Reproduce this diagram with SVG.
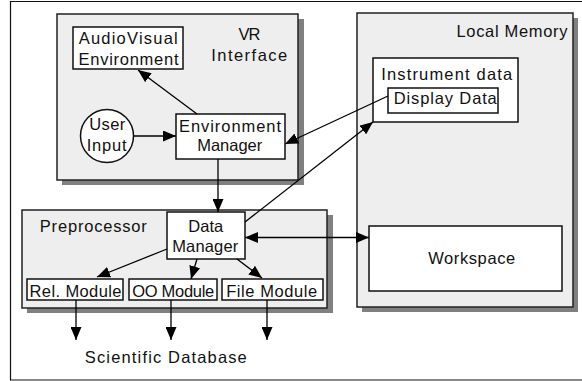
<svg xmlns="http://www.w3.org/2000/svg" width="582" height="381" viewBox="0 0 582 381">
<style>
.frame{fill:none;stroke:#111;stroke-width:1.2}
.grp{fill:#eeeeee;stroke:#222;stroke-width:1.5}
.shadow{fill:#808080;stroke:none}
.box{fill:#fff;stroke:#111;stroke-width:1.5}
.conn line{stroke:#000;stroke-width:1.3;fill:none}
text{font-family:"Liberation Sans",Arial,Helvetica,sans-serif;font-size:16.5px;fill:#111;text-anchor:middle}
</style>
<defs>
<marker id="ah" markerUnits="userSpaceOnUse" markerWidth="13" markerHeight="11" viewBox="0 0 13 11" refX="13" refY="5.5" orient="auto-start-reverse">
<path d="M0,0 L13,5.5 L0,11 z" fill="#000"/>
</marker>
</defs>
<rect width="582" height="381" fill="#fff"/>
<path class="frame" d="M582,1.5 H10.5 V380 H582"/>

<g id="vr-interface">
<rect class="shadow" x="62" y="19" width="242" height="166"/>
<rect class="grp" x="57" y="14" width="241" height="166"/>
<text x="249.5" y="39.5" textLength="22" lengthAdjust="spacing">VR</text>
<text x="249.2" y="60.7" textLength="76" lengthAdjust="spacing">Interface</text>
</g>
<g id="local-memory">
<rect class="shadow" x="362" y="18" width="216" height="294"/>
<rect class="grp" x="357" y="13" width="216" height="294"/>
<text x="512" y="36.7" textLength="111" lengthAdjust="spacing">Local Memory</text>
</g>
<g id="preprocessor">
<rect class="shadow" x="27" y="215" width="306" height="98"/>
<rect class="grp" x="22" y="210" width="305" height="98"/>
<text x="93.3" y="231.7" textLength="107" lengthAdjust="spacing">Preprocessor</text>
</g>

<g id="audiovisual">
<rect class="box" x="73" y="27" width="110" height="42"/>
<text x="128.2" y="44.3" textLength="99" lengthAdjust="spacing">AudioVisual</text>
<text x="128.5" y="65" textLength="100" lengthAdjust="spacing">Environment</text>
</g>
<g id="user-input">
<circle class="box" cx="107" cy="136" r="26.5"/>
<text x="107.2" y="130" textLength="36" lengthAdjust="spacing">User</text>
<text x="106.7" y="151" textLength="40" lengthAdjust="spacing">Input</text>
</g>
<g id="environment-manager">
<rect class="box" x="176" y="114" width="109" height="45"/>
<text x="230" y="132" textLength="102" lengthAdjust="spacing">Environment</text>
<text x="229.7" y="151" textLength="65" lengthAdjust="spacing">Manager</text>
</g>
<g id="instrument-data">
<rect class="box" x="373" y="58" width="145" height="64"/>
<text x="446.7" y="80" textLength="131" lengthAdjust="spacing">Instrument data</text>
</g>
<g id="display-data">
<rect class="box" x="388" y="88" width="110" height="25"/>
<text x="445.3" y="104.3" textLength="103" lengthAdjust="spacing">Display Data</text>
</g>
<g id="workspace">
<rect class="box" x="369" y="226" width="193" height="65"/>
<text x="471.7" y="264.3" textLength="87" lengthAdjust="spacing">Workspace</text>
</g>
<g id="data-manager">
<rect class="box" x="167" y="212" width="78" height="47"/>
<text x="205.8" y="231.7" textLength="35" lengthAdjust="spacing">Data</text>
<text x="205.2" y="251.7" textLength="66" lengthAdjust="spacing">Manager</text>
</g>
<g id="rel-module">
<rect class="box" x="27" y="279" width="96" height="21"/>
<text x="75.5" y="296.7" textLength="92" lengthAdjust="spacing">Rel. Module</text>
</g>
<g id="oo-module">
<rect class="box" x="129" y="279" width="88" height="21"/>
<text x="173.2" y="296.7" textLength="82" lengthAdjust="spacing">OO Module</text>
</g>
<g id="file-module">
<rect class="box" x="222" y="279" width="101" height="21"/>
<text x="271.7" y="296.7" textLength="91" lengthAdjust="spacing">File Module</text>
</g>
<g id="scientific-database">
<text x="165.8" y="363.3" textLength="162" lengthAdjust="spacing">Scientific Database</text>
</g>

<g id="connectors" class="conn">
<line x1="197" y1="114" x2="138" y2="70" marker-end="url(#ah)"/>
<line x1="133.5" y1="136" x2="176" y2="136" marker-end="url(#ah)"/>
<line x1="218" y1="159" x2="218" y2="212" marker-end="url(#ah)"/>
<line x1="388" y1="96" x2="285" y2="144" marker-end="url(#ah)"/>
<line x1="245" y1="222" x2="373" y2="122" marker-end="url(#ah)"/>
<line x1="245" y1="237.5" x2="369" y2="237.5" marker-start="url(#ah)" marker-end="url(#ah)"/>
<line x1="167" y1="249" x2="97" y2="277" marker-end="url(#ah)"/>
<line x1="197" y1="259" x2="191" y2="279" marker-end="url(#ah)"/>
<line x1="237" y1="259" x2="262" y2="278" marker-end="url(#ah)"/>
<line x1="76" y1="300" x2="76" y2="340" marker-end="url(#ah)"/>
<line x1="171" y1="300" x2="171" y2="340" marker-end="url(#ah)"/>
<line x1="267" y1="300" x2="267" y2="340" marker-end="url(#ah)"/>
</g>
</svg>
